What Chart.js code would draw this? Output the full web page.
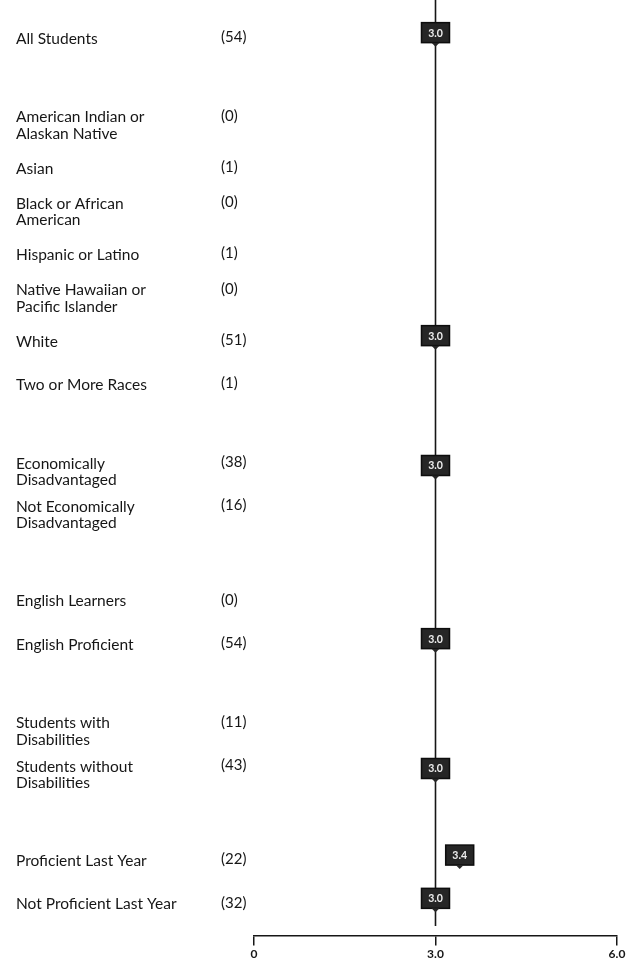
<!DOCTYPE html>
<html>
<head>
<meta charset="utf-8">
<script src="https://cdn.jsdelivr.net/npm/chart.js@4.4.1/dist/chart.umd.min.js"></script>
<style>
  html, body { margin: 0; padding: 0; background: #fff; }
  #wrap { position: relative; width: 628px; height: 962px; }
</style>
</head>
<body>
<div id="wrap"><canvas id="scoreChart"></canvas></div>
<script>
// rows top to bottom, "" rows are the gaps between groups
const rowLabels = [
    ["All Students"], [""],
    ["American Indian or", "Alaskan Native"], ["Asian"], ["Black or African", "American"],
    ["Hispanic or Latino"], ["Native Hawaiian or", "Pacific Islander"], ["White"], ["Two or More Races"], [""],
    ["Economically", "Disadvantaged"], ["Not Economically", "Disadvantaged"], [""],
    ["English Learners"], ["English Proficient"], [""],
    ["Students with", "Disabilities"], ["Students without", "Disabilities"], [""],
    ["Proficient Last Year"], ["Not Proficient Last Year"]
];
const studentCounts = [54, null, 0, 1, 0, 1, 0, 51, 1, null, 38, 16, null, 0, 54, null, 11, 43, null, 22, 32];
const meanScores = [3.0, null, null, null, null, null, null, 3.0, null, null, 3.0, null, null, null, 3.0, null, null, 3.0, null, 3.4, 3.0];
const xTicks = [0, 3, 6];
const referenceScore = 3.0;

const ink = "#161616";
const textFont = "Lato, 'Open Sans', sans-serif";

// left column: group names and (n)
const rowTextPlugin = {
    id: "rowText",
    afterDraw(chart) {
        const ctx = chart.ctx;
        const yScale = chart.scales.y;
        ctx.save();
        ctx.fillStyle = ink;
        ctx.textBaseline = "middle";
        rowLabels.forEach((lines, i) => {
            const y = yScale.getPixelForValue(i);
            const top = lines.length > 1 ? y - 8 : y;
            ctx.font = "15.5px " + textFont;
            ctx.textAlign = "left";
            lines.forEach((line, k) => ctx.fillText(line, 16, top + k * 16.5));
            if (studentCounts[i] !== null) {
                ctx.font = "15px " + textFont;
                ctx.fillText("(" + studentCounts[i] + ")", 221, top - 1.5);
            }
        });
        ctx.restore();
    }
};

// vertical line at 3.0 from the top of the page down to the axis
const refLinePlugin = {
    id: "refLine",
    beforeDatasetsDraw(chart) {
        const ctx = chart.ctx;
        const x = chart.scales.x.getPixelForValue(referenceScore);
        ctx.save();
        ctx.strokeStyle = ink;
        ctx.lineWidth = 1.6;
        ctx.beginPath();
        ctx.moveTo(x, 0);
        ctx.lineTo(x, chart.scales.x.top);
        ctx.stroke();
        ctx.restore();
    }
};

// dark value boxes with a little pointer
const boxPlugin = {
    id: "valueBoxes",
    afterDatasetsDraw(chart) {
        const ctx = chart.ctx;
        const meta = chart.getDatasetMeta(0);
        ctx.save();
        meta.data.forEach((pt, i) => {
            if (meanScores[i] === null) return;
            const x = pt.x, y = pt.y - 6;
            ctx.fillStyle = "#262626";
            ctx.strokeStyle = "#0d0d0d";
            ctx.lineWidth = 1.5;
            ctx.fillRect(x - 14, y - 10, 28, 20);
            ctx.strokeRect(x - 14, y - 10, 28, 20);
            ctx.beginPath();
            ctx.moveTo(x - 4, y + 10);
            ctx.lineTo(x + 4, y + 10);
            ctx.lineTo(x, y + 14);
            ctx.closePath();
            ctx.fill();
            ctx.fillStyle = "#eeeeee";
            ctx.font = "bold 10.5px " + textFont;
            ctx.textAlign = "center";
            ctx.textBaseline = "middle";
            ctx.fillText(meanScores[i].toFixed(1), x, y + 0.5);
        });
        ctx.restore();
    }
};

new Chart(document.getElementById("scoreChart").getContext("2d"), {
    type: "line",
    data: {
        labels: rowLabels.map((l, i) => i + " " + l.join(" ")),
        datasets: [
            {
                label: "Mean score",
                data: meanScores,
                showLine: false,
                pointRadius: 0,
                pointHoverRadius: 0,
            },
        ],
    },
    options: {
        indexAxis: "y",
        responsive: true,
        maintainAspectRatio: false,
        animation: false,
        layout: { padding: { left: 254, right: 11, top: 17, bottom: 36 } },
        plugins: { legend: { display: false }, tooltip: { enabled: false } },
        scales: {
            y: {
                type: "category",
                offset: true,
                display: false,
            },
            x: {
                type: "linear",
                min: 0,
                max: 6,
                position: { y: 20.72 },
                afterBuildTicks: (s) => { s.ticks = xTicks.map((v) => ({ value: v })); },
                grid: { drawOnChartArea: false, drawTicks: true, tickLength: 9, color: ink, lineWidth: 1.5 },
                border: { display: true, color: ink, width: 1.5 },
                ticks: {
                    color: ink,
                    padding: 2,
                    font: { family: textFont, size: 12, weight: "bold" },
                    callback: (v) => (v === 0 ? "0" : v.toFixed(1)),
                    maxRotation: 0,
                },
            },
        },
    },
    plugins: [refLinePlugin, boxPlugin, rowTextPlugin],
});
</script>
</body>
</html>
